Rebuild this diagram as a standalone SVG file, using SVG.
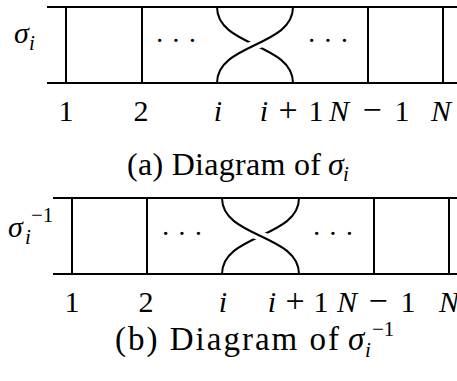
<svg xmlns="http://www.w3.org/2000/svg" width="457" height="381" viewBox="0 0 457 381">
<style>
.ln{stroke:#000;stroke-width:2;fill:none}
.halo{stroke:#fff;stroke-width:9;fill:none}
.t{font-family:"Liberation Serif",serif;font-size:30px;fill:#000}
.op{font-size:34px}
.cap{font-family:"Liberation Serif",serif;font-size:32px;fill:#000}
.capb{font-family:"Liberation Serif",serif;font-size:33px;fill:#000}
.it{font-style:italic}
.sub{font-size:21px}
.dots{font-family:"Liberation Serif",serif;font-size:28px;fill:#000}
</style>
<g id="diagram-a">
  <g id="frame-a">
    <line class="ln" x1="47" y1="7" x2="457" y2="7"/>
    <line class="ln" x1="47" y1="83" x2="457" y2="83"/>
    <line class="ln" x1="66" y1="7" x2="66" y2="83"/>
    <line class="ln" x1="142" y1="7" x2="142" y2="83"/>
    <line class="ln" x1="368" y1="7" x2="368" y2="83"/>
    <line class="ln" x1="443" y1="7" x2="443" y2="83"/>
  </g>
  <g id="crossing-a">
    <path class="ln" d="M217,7 C217,47 293,43 293,83"/>
    <path class="halo" d="M225,60 C240,45 270,45 285,30"/>
    <path class="ln" d="M217,83 C217,43 293,47 293,7"/>
  </g>
  <text class="dots" x="176" y="50" text-anchor="middle">· · ·</text>
  <text class="dots" x="328" y="50" text-anchor="middle">· · ·</text>
  <text class="t it" x="14" y="43" font-size="32">σ<tspan class="sub" x="29" y="50">i</tspan></text>
  <g id="labels-a">
    <text class="t" x="66" y="121" text-anchor="middle">1</text>
    <text class="t" x="141" y="121" text-anchor="middle">2</text>
    <text class="t it" x="218" y="121" text-anchor="middle">i</text>
    <text class="t" text-anchor="middle"><tspan class="it" x="264" y="121">i</tspan><tspan class="op" x="288" y="121">+</tspan><tspan x="316" y="121">1</tspan></text>
    <text class="t" text-anchor="middle"><tspan class="it" x="339" y="121">N</tspan><tspan class="op" x="372" y="121">−</tspan><tspan x="402" y="121">1</tspan></text>
    <text class="t it" x="441" y="121" text-anchor="middle">N</text>
  </g>
  <text class="cap" x="127" y="175"><tspan textLength="194" lengthAdjust="spacing">(a) Diagram of</tspan><tspan class="it" x="328">σ</tspan><tspan class="it sub" x="343" y="181">i</tspan></text>
</g>
<g id="diagram-b">
  <g id="frame-b">
    <line class="ln" x1="53" y1="198" x2="457" y2="198"/>
    <line class="ln" x1="53" y1="274" x2="457" y2="274"/>
    <line class="ln" x1="72" y1="198" x2="72" y2="274"/>
    <line class="ln" x1="147" y1="198" x2="147" y2="274"/>
    <line class="ln" x1="374" y1="198" x2="374" y2="274"/>
    <line class="ln" x1="449" y1="198" x2="449" y2="274"/>
  </g>
  <g id="crossing-b">
    <path class="ln" d="M222,274 C222,234 299,238 299,198"/>
    <path class="halo" d="M230,221 C245,236 276,236 291,251"/>
    <path class="ln" d="M222,198 C222,238 299,234 299,274"/>
  </g>
  <text class="dots" x="182" y="243" text-anchor="middle">· · ·</text>
  <text class="dots" x="333" y="243" text-anchor="middle">· · ·</text>
  <text class="t it" x="8" y="237" font-size="32">σ<tspan class="sub" x="25" y="244">i</tspan></text>
  <text class="t sub" x="31" y="222">−1</text>
  <g id="labels-b">
    <text class="t" x="72" y="312" text-anchor="middle">1</text>
    <text class="t" x="146" y="312" text-anchor="middle">2</text>
    <text class="t it" x="223" y="312" text-anchor="middle">i</text>
    <text class="t" text-anchor="middle"><tspan class="it" x="272" y="312">i</tspan><tspan class="op" x="295" y="312">+</tspan><tspan x="321" y="312">1</tspan></text>
    <text class="t" text-anchor="middle"><tspan class="it" x="347" y="312">N</tspan><tspan class="op" x="378" y="312">−</tspan><tspan x="408" y="312">1</tspan></text>
    <text class="t it" x="449" y="312" text-anchor="middle">N</text>
  </g>
  <text class="capb" x="115" y="350"><tspan textLength="224" lengthAdjust="spacing">(b) Diagram of</tspan><tspan class="it" x="348">σ</tspan><tspan class="it sub" x="365" y="357">i</tspan><tspan class="sub" x="372" y="336">−1</tspan></text>
</g>
</svg>
